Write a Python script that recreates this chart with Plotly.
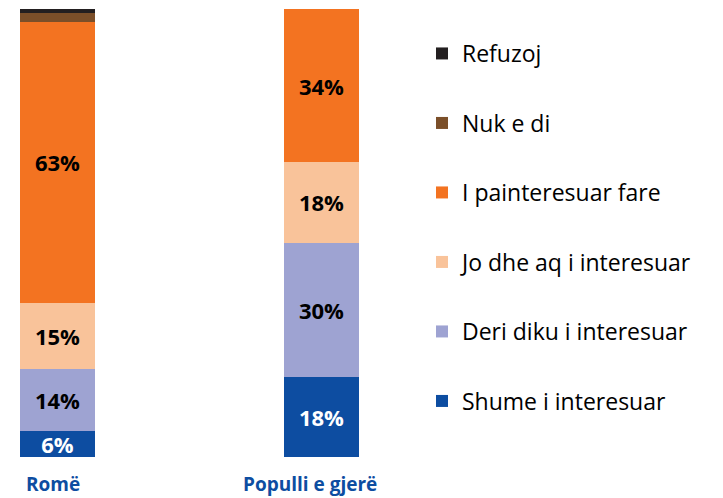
import plotly.graph_objects as go

categories = ["Romë", "Populli e gjerë"]
series_names = ["Shume i interesuar", "Deri diku i interesuar", "Jo dhe aq i interesuar",
                "I painteresuar fare", "Nuk e di", "Refuzoj"]
shume = [5.8, 17.9]
deri_diku = [13.8, 29.9]
jo_dhe_aq = [14.7, 18.1]
painteresuar = [62.9, 34.0]
nuk_e_di = [2.0, 0.0]
refuzoj = [0.7, 0.0]

values = [shume, deri_diku, jo_dhe_aq, painteresuar, nuk_e_di, refuzoj]
colors = ["#0d4da1", "#9ea3d2", "#f9c39a", "#f37321", "#7b4f29", "#231f20"]
text_colors = ["white", "black", "black", "black", "black", "black"]
show_text = [True, True, True, True, False, False]

FONT = "Open Sans"

fig = go.Figure()
for i, (name, vals) in enumerate(zip(series_names, values)):
    fig.add_trace(go.Bar(
        x=categories, y=vals, name=name,
        marker=dict(color=colors[i], line=dict(width=0)),
        texttemplate="%{y:.0f}%" if show_text[i] else "",
        textposition="inside", insidetextanchor="middle", textangle=0,
        insidetextfont=dict(family=FONT, size=22, color=text_colors[i], weight="bold"),
        constraintext="none", cliponaxis=False,
        legendgroup=name, legendrank=len(series_names) - i, width=0.284,
        hoverinfo="skip",
    ))

for c, shift in zip(categories, [-5, -12]):
    fig.add_annotation(x=c, y=0, xref="x", yref="paper", yshift=-27, xshift=shift,
                       yanchor="middle",
                       text=f"<b>{c}</b>", showarrow=False,
                       font=dict(family=FONT, size=19, color="#0d4da1"))

fig.update_layout(
    width=723, height=498,
    barmode="stack",
    uniformtext=dict(minsize=22, mode="show"),
    margin=dict(l=0, r=311, t=1, b=49, autoexpand=False),
    paper_bgcolor="white", plot_bgcolor="white",
    xaxis=dict(range=[-0.1875, 1.373], showticklabels=False, showgrid=False,
               zeroline=False, showline=False, ticks=""),
    yaxis=dict(range=[0, 100], visible=False),
    legend=dict(traceorder="grouped", tracegroupgap=36.6, maxheight=1,
                xref="container", yref="container",
                x=414/723, xanchor="left", y=1 - 24/498, yanchor="top",
                font=dict(family=FONT, size=23, color="black"),
                bgcolor="rgba(0,0,0,0)"),
    showlegend=True,
)
fig.write_html("out.html")
